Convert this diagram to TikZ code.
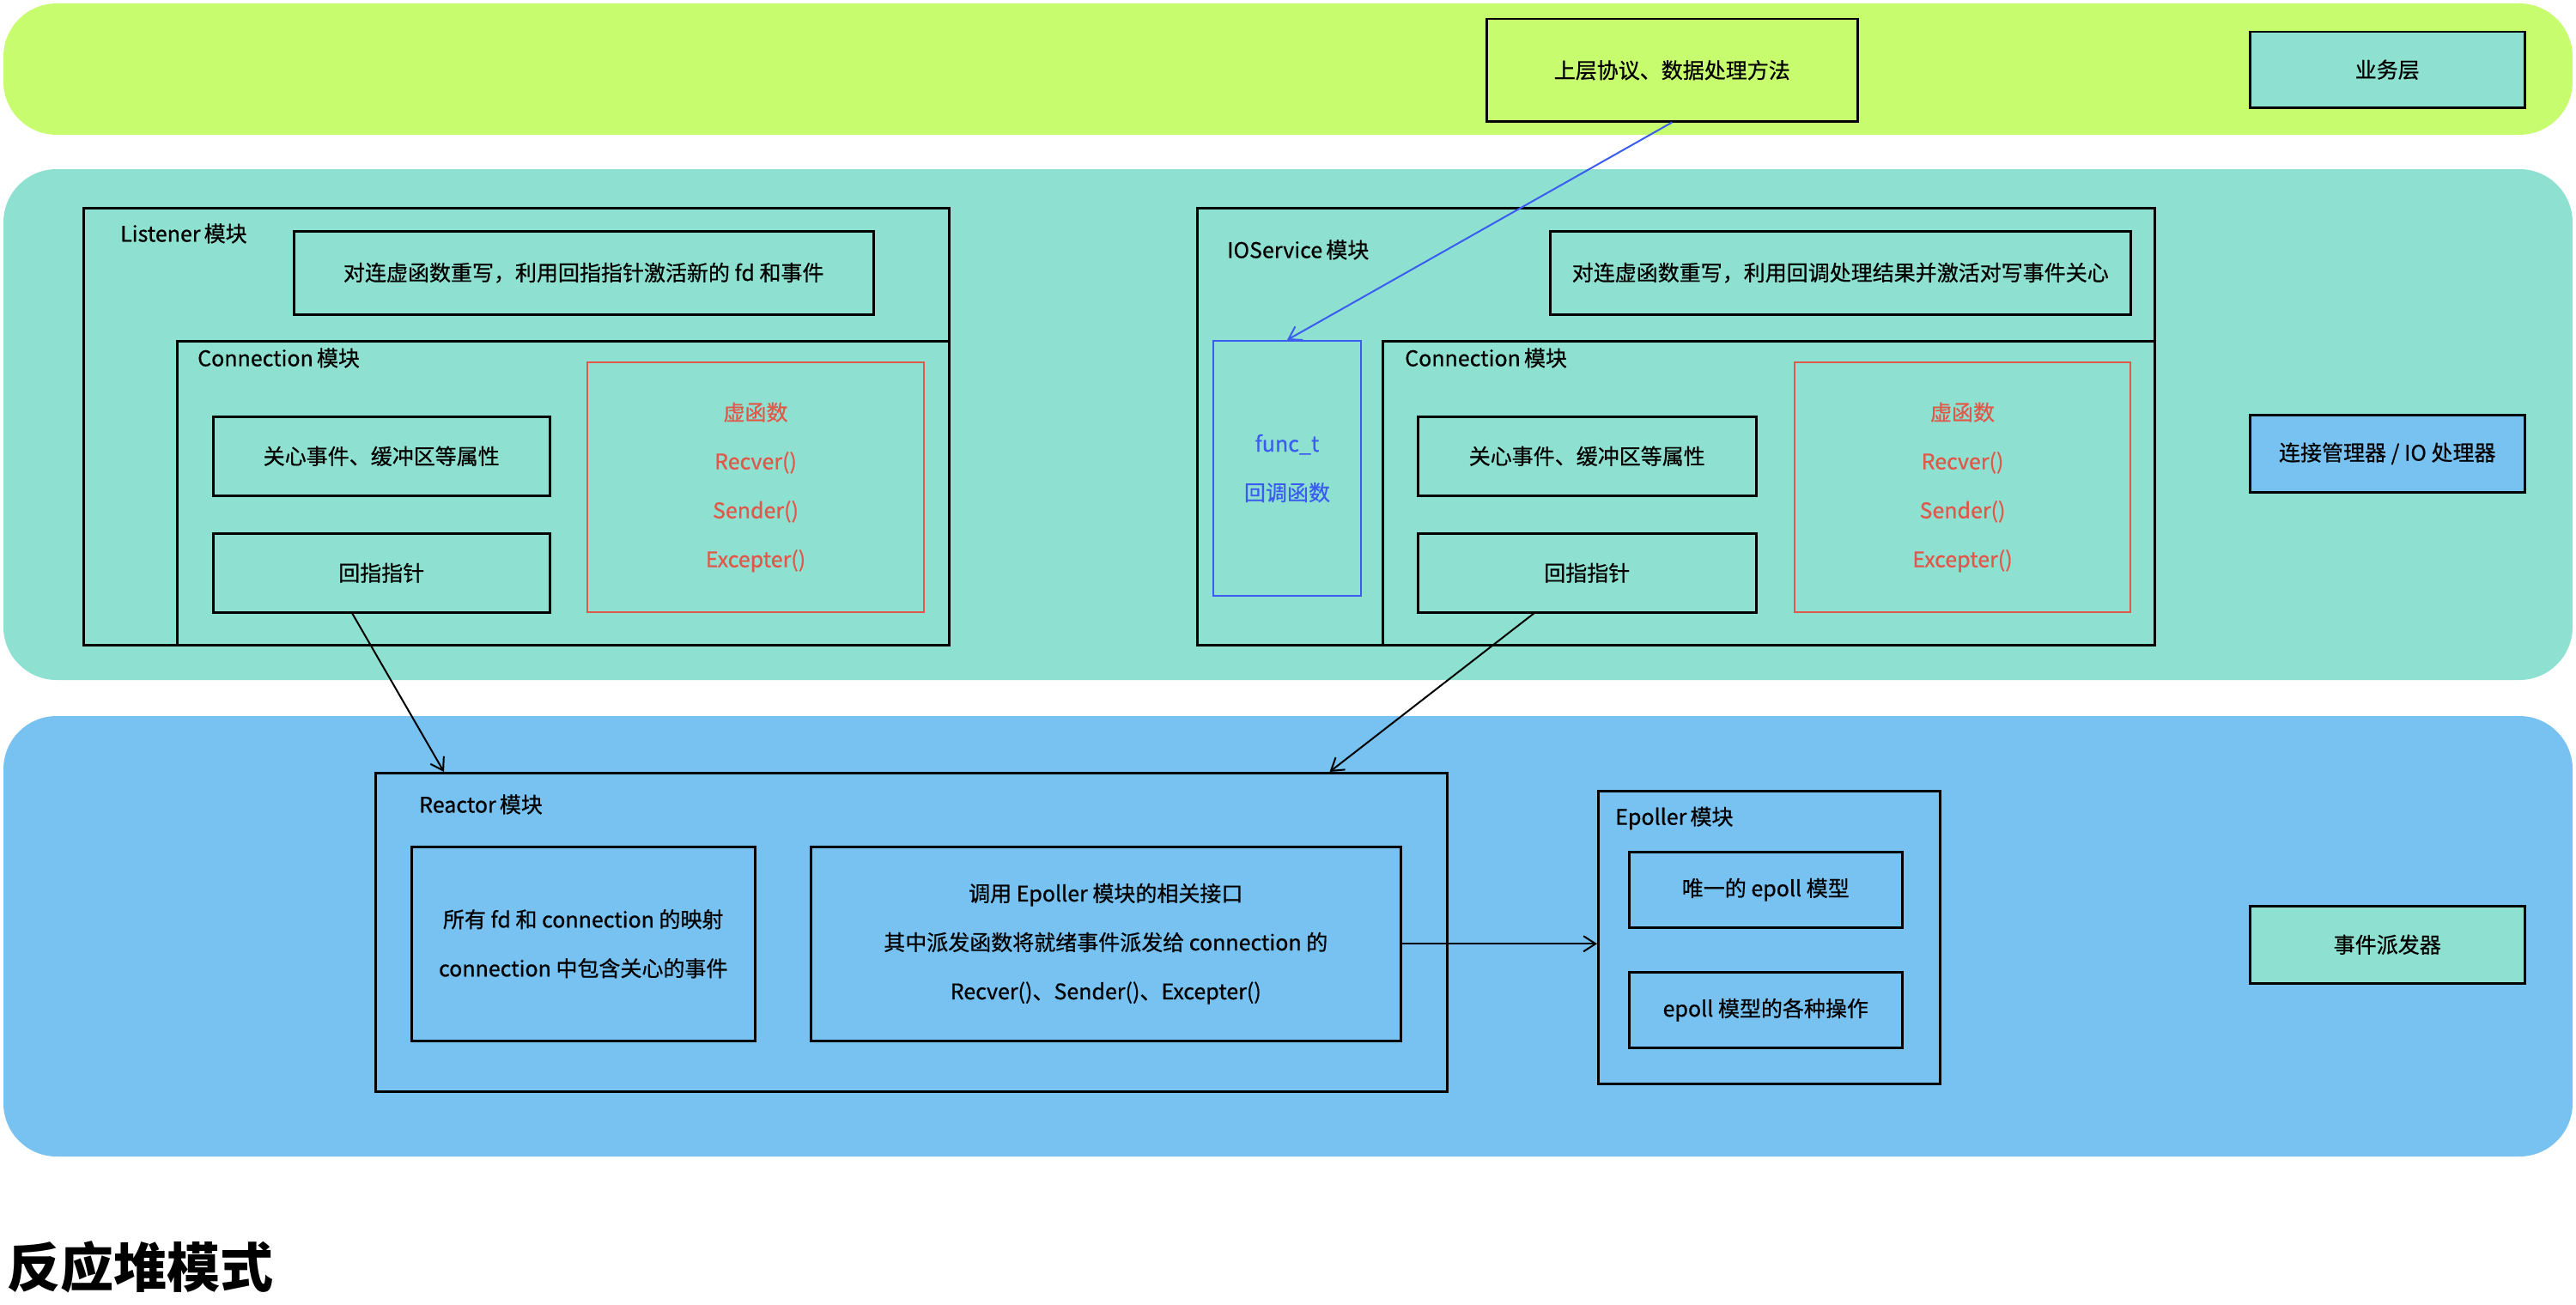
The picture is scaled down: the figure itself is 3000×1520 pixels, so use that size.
\documentclass[tikz,border=0pt]{standalone}
\usepackage{fontspec}
\setmainfont{Noto Sans CJK SC}
\newfontfamily\medf{Noto Sans CJK SC}[FakeBold=0.6]
\usetikzlibrary{arrows.meta}
\definecolor{bandgreen}{HTML}{C7FC6F}
\definecolor{bandteal}{HTML}{8EE1D0}
\definecolor{bandblue}{HTML}{77C2F1}
\definecolor{virtred}{HTML}{E0584A}
\definecolor{cbblue}{HTML}{3A5CF0}
\tikzset{
  band/.style={rounded corners=62pt},
  box/.style={draw=black, line width=2.5pt, anchor=north west, inner sep=0pt, align=center,
    font=\medf\fontsize{25}{57}\selectfont},
  redbox/.style={box, draw=virtred, line width=2pt, text=virtred},
  bluebox/.style={box, draw=cbblue, line width=2pt, text=cbblue},
  lbl/.style={anchor=west, inner sep=0pt, font=\medf\fontsize{25}{30}\selectfont},
  arr/.style={line width=2pt, -{Straight Barb[length=14pt,width=18pt,line width=2pt]}},
}
\begin{document}
\begin{tikzpicture}[x=1pt,y=-1pt]
\useasboundingbox (0,0) rectangle (3000,1520);
% bands
\fill[bandgreen, band] (4,4) rectangle (2996,157);
\fill[bandteal, band] (4,197) rectangle (2996,792);
\fill[bandblue, band] (4,834) rectangle (2996,1347);

% top layer
\node[box, minimum width=432pt, minimum height=119pt] (upper) at (1730,21) {上层协议、数据处理方法};
\node[box, fill=bandteal, minimum width=320pt, minimum height=88pt] (biz) at (2619,36) {业务层};

% Listener
\node[box, minimum width=1008pt, minimum height=509pt] (listener) at (96,241) {};
\node[lbl] (listenerlbl) at (140,272) {Listener\,模块};
\node[box, minimum width=675pt, minimum height=97pt] (lrewrite) at (341,268) {对连虚函数重写，利用回指指针激活新的 fd 和事件};
\node[box, minimum width=899pt, minimum height=354pt] (lconn) at (205,396) {};
\node[lbl] (lconnlbl) at (230,417) {Connection\,模块};
\node[box, minimum width=392pt, minimum height=92pt] (lattr) at (247,484) {关心事件、缓冲区等属性};
\node[box, minimum width=392pt, minimum height=92pt] (lptr) at (247,620) {回指指针};
\node[redbox, minimum width=392pt, minimum height=291pt] (lvirt) at (683,421) {虚函数\\Recver()\\Sender()\\Excepter()};

% IOService
\node[box, minimum width=1115pt, minimum height=509pt] (ios) at (1393,241) {};
\node[lbl] (ioslbl) at (1429,291) {IOService\,模块};
\node[box, minimum width=676pt, minimum height=97pt] (irewrite) at (1804,268) {对连虚函数重写，利用回调处理结果并激活对写事件关心};
\node[bluebox, minimum width=172pt, minimum height=297pt] (func) at (1412,396) {func\_t\\回调函数};
\node[box, minimum width=899pt, minimum height=354pt] (iconn) at (1609,396) {};
\node[lbl] (iconnlbl) at (1636,417) {Connection\,模块};
\node[box, minimum width=394pt, minimum height=92pt] (iattr) at (1650,484) {关心事件、缓冲区等属性};
\node[box, minimum width=394pt, minimum height=92pt] (iptr) at (1650,620) {回指指针};
\node[redbox, minimum width=391pt, minimum height=291pt] (ivirt) at (2089,421) {虚函数\\Recver()\\Sender()\\Excepter()};
\node[box, fill=bandblue, minimum width=320pt, minimum height=90pt] (connmgr) at (2619,482) {连接管理器 / IO 处理器};

% Reactor
\node[box, minimum width=1248pt, minimum height=371pt] (reactor) at (436,899) {};
\node[lbl] (reactorlbl) at (488,937) {Reactor\,模块};
\node[box, minimum width=400pt, minimum height=226pt] (rmap) at (478,985) {所有 fd 和 connection 的映射\\connection 中包含关心的事件};
\node[box, minimum width=687pt, minimum height=226pt] (rcall) at (943,985) {调用 Epoller 模块的相关接口\\其中派发函数将就绪事件派发给 connection 的\\Recver()、Sender()、Excepter()};

% Epoller
\node[box, minimum width=398pt, minimum height=341pt] (epoller) at (1860,920) {};
\node[lbl] (epollerlbl) at (1881,953) {Epoller\,模块};
\node[box, minimum width=318pt, minimum height=88pt] (eone) at (1896,991) {唯一的 epoll 模型};
\node[box, minimum width=318pt, minimum height=88pt] (eops) at (1896,1131) {epoll 模型的各种操作};
\node[box, fill=bandteal, minimum width=320pt, minimum height=90pt] (disp) at (2619,1054) {事件派发器};

% title
\node[anchor=west, inner sep=0pt, font=\bfseries\fontsize{62}{70}\selectfont] (title) at (8,1476) {反应堆模式};

% connectors
\draw[arr, cbblue] (upper.south) -- (func.north);
\draw[arr] ([xshift=-34pt]lptr.south) -- ([xshift=81pt]reactor.north west);
\draw[arr] ([xshift=-62pt]iptr.south) -- ([xshift=-138pt]reactor.north east);
\draw[arr] (rcall.east) -- (rcall.east -| epoller.west);
\end{tikzpicture}
\end{document}
